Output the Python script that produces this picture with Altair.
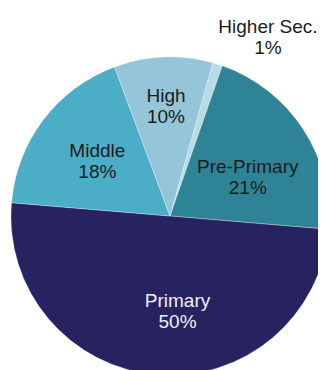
import math
import altair as alt
import pandas as pd

# Slice data (clockwise from the top, starting with Higher Sec.)
LEVELS = ["Higher Sec.", "Pre-Primary", "Primary", "Middle", "High"]
SHARES = [1, 21, 50, 18, 10]
COLORS = ["#b8dbe7", "#2e8496", "#272360", "#4badc6", "#94c5d9"]
TEXT_COLORS = ["#1c1c1c", "#1c1c1c", "#f0f0f5", "#1c1c1c", "#1c1c1c"]

# Label placement (polar: angle in degrees clockwise from top, radius px)
LABEL_ANGLE = [28.7, 63.4, 175.5, 307.0, 357.9]
LABEL_RADIUS = [204, 87, 96, 91, 110]

START_DEG = 15.6
CX, CY, R = 162, 208, 159

df = pd.DataFrame({
    "level": LEVELS,
    "share": SHARES,
    "idx": list(range(len(LEVELS))),
    "label": [f"{l}\n{s}%" for l, s in zip(LEVELS, SHARES)],
    "tcolor": TEXT_COLORS,
    "ang": LABEL_ANGLE,
    "rad": LABEL_RADIUS,
})

a0 = math.radians(START_DEG)

pie = alt.Chart(df).mark_arc(radius=R, stroke="#ffffff", strokeWidth=0.3).encode(
    theta=alt.Theta("share:Q", stack=True,
                    scale=alt.Scale(range=[a0, a0 + 2 * math.pi])),
    order=alt.Order("idx:Q"),
    color=alt.Color("level:N", scale=alt.Scale(domain=LEVELS, range=COLORS), legend=None),
    x=alt.value(CX),
    y=alt.value(CY),
)

labels = alt.Chart(df).transform_calculate(
    th="datum.ang * PI / 180"
).mark_text(
    font="Liberation Sans", fontSize=19, lineBreak="\n", lineHeight=21,
    align="center", baseline="middle", dy=-10.5
).encode(
    theta=alt.Theta("th:Q", scale=None),
    radius=alt.Radius("rad:Q", scale=None),
    text="label:N",
    color=alt.Color("tcolor:N", scale=None),
    x=alt.value(CX),
    y=alt.value(CY),
)

chart = alt.layer(pie, labels).properties(
    width=310, height=362, padding=0,
    autosize=alt.AutoSizeParams(type="none"),
    background="#ffffff",
).configure_view(stroke=None)

chart.save("out.html", embed_options={"renderer": "svg", "actions": False})
